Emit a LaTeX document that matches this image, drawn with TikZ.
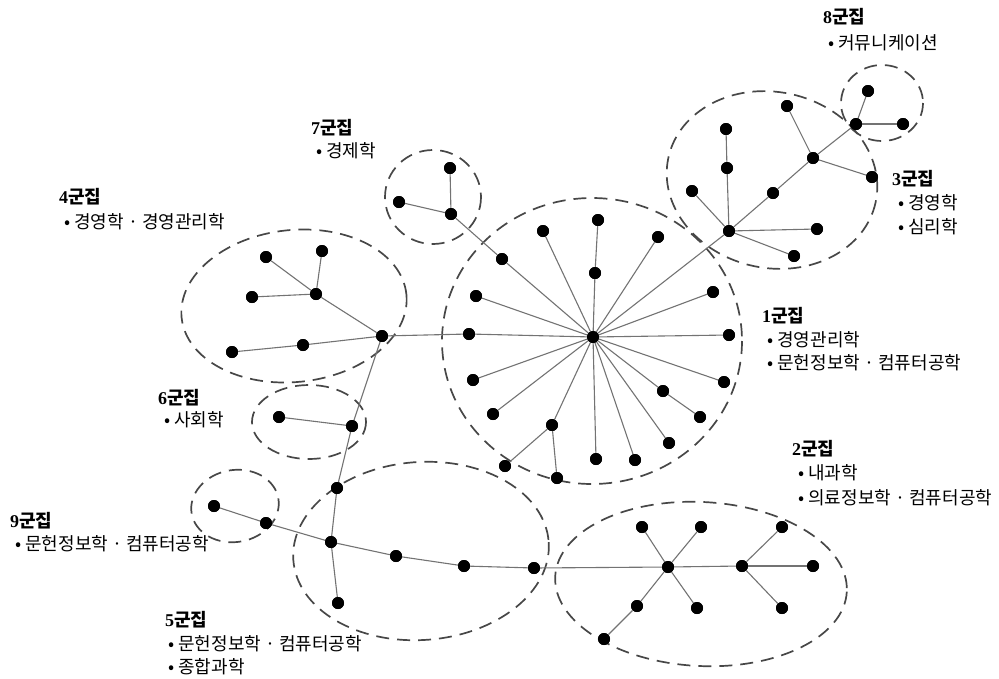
\documentclass[tikz,border=0pt]{standalone}
\usepackage{fontspec}
\setmainfont{Liberation Serif}
\newfontfamily\kr{Noto Sans CJK KR}
\tikzset{
  dot/.style={circle,fill=black,inner sep=0pt,minimum size=12pt},
  edge/.style={draw=black!55,line width=1.1pt},
  clus/.style={draw=black!72,line width=1.7pt,dash pattern=on 13pt off 8pt},
  ttl/.style={anchor=west,inner sep=0pt,font=\fontsize{18}{20}\selectfont},
  itm/.style={anchor=west,inner sep=0pt,font=\kr\fontsize{18}{20}\selectfont},
}
\newcommand{\gj}[1]{{\bfseries #1}{\kr\bfseries 군집}}
\begin{document}
\begin{tikzpicture}[x=1pt,y=-1pt]
\useasboundingbox (0,0) rectangle (999,678);
% cluster outlines
\draw[clus] (592,341) ellipse [x radius=150, y radius=143];
\draw[clus] (772,180) [rotate around={-12:(772,180)}] ellipse [x radius=106, y radius=88];
\draw[clus] (882,103) ellipse [x radius=41, y radius=38];
\draw[clus] (433,197) ellipse [x radius=48, y radius=47];
\draw[clus] (294,306) [rotate around={6:(294,306)}] ellipse [x radius=113, y radius=76];
\draw[clus] (309,422) ellipse [x radius=57, y radius=37];
\draw[clus] (421,551) [rotate around={4:(421,551)}] ellipse [x radius=128, y radius=89];
\draw[clus] (235,506) [rotate around={10:(235,506)}] ellipse [x radius=44, y radius=36];
\draw[clus] (701,584) [rotate around={-3:(701,584)}] ellipse [x radius=146, y radius=82];
% nodes: cluster 1
\node[dot] (h1) at (593,337) {};
\node[dot] (a1) at (595,273) {};
\node[dot] (a2) at (598,220) {};
\node[dot] (a3) at (543,231) {};
\node[dot] (a4) at (658,237) {};
\node[dot] (a5) at (502,259) {};
\node[dot] (a6) at (476,296) {};
\node[dot] (a7) at (469,334) {};
\node[dot] (a8) at (473,380) {};
\node[dot] (a9) at (493,414) {};
\node[dot] (a10) at (552,425) {};
\node[dot] (a11) at (505,466) {};
\node[dot] (a12) at (557,478) {};
\node[dot] (a13) at (596,459) {};
\node[dot] (a14) at (635,460) {};
\node[dot] (a15) at (669,443) {};
\node[dot] (a16) at (663,391) {};
\node[dot] (a17) at (700,417) {};
\node[dot] (a18) at (724,382) {};
\node[dot] (a19) at (729,335) {};
\node[dot] (a20) at (713,292) {};
% cluster 3
\node[dot] (h3) at (729,231) {};
\node[dot] (b1) at (727,168) {};
\node[dot] (b2) at (726,129) {};
\node[dot] (b3) at (692,191) {};
\node[dot] (b4) at (773,193) {};
\node[dot] (b5) at (813,158) {};
\node[dot] (b6) at (787,106) {};
\node[dot] (b7) at (872,177) {};
\node[dot] (b8) at (817,229) {};
\node[dot] (b9) at (794,256) {};
% cluster 8
\node[dot] (h8) at (856,124) {};
\node[dot] (c1) at (868,91) {};
\node[dot] (c2) at (903,124) {};
% cluster 7
\node[dot] (h7) at (451,214) {};
\node[dot] (d1) at (450,168) {};
\node[dot] (d2) at (399,202) {};
% cluster 4
\node[dot] (h4) at (382,336) {};
\node[dot] (e1) at (316,294) {};
\node[dot] (e2) at (266,257) {};
\node[dot] (e3) at (322,251) {};
\node[dot] (e4) at (252,297) {};
\node[dot] (e5) at (303,345) {};
\node[dot] (e6) at (232,352) {};
% cluster 6
\node[dot] (f1) at (352,426) {};
\node[dot] (f2) at (279,417) {};
% cluster 5
\node[dot] (g0) at (337,488) {};
\node[dot] (h5) at (331,542) {};
\node[dot] (g1) at (338,603) {};
\node[dot] (g2) at (396,556) {};
\node[dot] (g3) at (464,566) {};
\node[dot] (g4) at (534,568) {};
% cluster 9
\node[dot] (i1) at (266,523) {};
\node[dot] (i2) at (214,506) {};
% cluster 2
\node[dot] (h2) at (668,567) {};
\node[dot] (j1) at (642,527) {};
\node[dot] (j2) at (701,527) {};
\node[dot] (j3) at (637,606) {};
\node[dot] (j4) at (604,639) {};
\node[dot] (j5) at (697,608) {};
\node[dot] (k0) at (742,566) {};
\node[dot] (k1) at (782,527) {};
\node[dot] (k2) at (813,566) {};
\node[dot] (k3) at (782,608) {};
% edges
\foreach \n in {a1,a3,a4,a5,a6,a7,a8,a9,a10,a13,a14,a15,a16,a18,a19,a20,h3}
  \draw[edge] (h1) -- (\n);
\draw[edge] (a1) -- (a2);
\draw[edge] (a10) -- (a11);
\draw[edge] (a10) -- (a12);
\draw[edge] (a16) -- (a17);
\draw[edge] (a5) -- (h7);
\draw[edge] (h7) -- (d1);
\draw[edge] (h7) -- (d2);
\draw[edge] (a7) -- (h4);
\draw[edge] (h3) -- (b1) -- (b2);
\draw[edge] (h3) -- (b3);
\draw[edge] (h3) -- (b4) -- (b5);
\draw[edge] (b5) -- (b6);
\draw[edge] (b5) -- (b7);
\draw[edge] (b5) -- (h8);
\draw[edge] (h3) -- (b8);
\draw[edge] (h3) -- (b9);
\draw[edge] (h8) -- (c1);
\draw[edge] (h8) -- (c2);
\draw[edge] (h4) -- (e1);
\draw[edge] (e1) -- (e2);
\draw[edge] (e1) -- (e3);
\draw[edge] (e1) -- (e4);
\draw[edge] (h4) -- (e5) -- (e6);
\draw[edge] (h4) -- (f1);
\draw[edge] (f1) -- (f2);
\draw[edge] (f1) -- (g0) -- (h5);
\draw[edge] (h5) -- (g1);
\draw[edge] (h5) -- (g2) -- (g3) -- (g4) -- (h2);
\draw[edge] (h5) -- (i1) -- (i2);
\draw[edge] (h2) -- (j1);
\draw[edge] (h2) -- (j2);
\draw[edge] (h2) -- (j3) -- (j4);
\draw[edge] (h2) -- (j5);
\draw[edge] (h2) -- (k0);
\draw[edge] (k0) -- (k1);
\draw[edge] (k0) -- (k2);
\draw[edge] (k0) -- (k3);
% redraw dots on top
\foreach \n in {h1,a1,a2,a3,a4,a5,a6,a7,a8,a9,a10,a11,a12,a13,a14,a15,a16,a17,a18,a19,a20,
  h3,b1,b2,b3,b4,b5,b6,b7,b8,b9,h8,c1,c2,h7,d1,d2,h4,e1,e2,e3,e4,e5,e6,f1,f2,
  g0,h5,g1,g2,g3,g4,i1,i2,h2,j1,j2,j3,j4,j5,k0,k1,k2,k3}
  \fill (\n.center) circle (6pt);
% labels
\node[ttl] (t8) at (823,17) {\gj{8}};
\node[itm] (t8a) at (828,43) {• 커뮤니케이션};
\node[ttl] (t7) at (311,128) {\gj{7}};
\node[itm] (t7a) at (316,151) {• 경제학};
\node[ttl] (t4) at (59,197) {\gj{4}};
\node[itm] (t4a) at (64,222) {• 경영학 · 경영관리학};
\node[ttl] (t3) at (892,179) {\gj{3}};
\node[itm] (t3a) at (898,203) {• 경영학};
\node[itm] (t3b) at (898,227) {• 심리학};
\node[ttl] (t1) at (762,316) {\gj{1}};
\node[itm] (t1a) at (767,340) {• 경영관리학};
\node[itm] (t1b) at (767,363) {• 문헌정보학 · 컴퓨터공학};
\node[ttl] (t6) at (158,398) {\gj{6}};
\node[itm] (t6a) at (164,420) {• 사회학};
\node[ttl] (t2) at (792,449) {\gj{2}};
\node[itm] (t2a) at (798,473) {• 내과학};
\node[itm] (t2b) at (798,498) {• 의료정보학 · 컴퓨터공학};
\node[ttl] (t9) at (10,521) {\gj{9}};
\node[itm] (t9a) at (15,544) {• 문헌정보학 · 컴퓨터공학};
\node[ttl] (t5) at (165,620) {\gj{5}};
\node[itm] (t5a) at (168,644) {• 문헌정보학 · 컴퓨터공학};
\node[itm] (t5b) at (168,667) {• 종합과학};
\end{tikzpicture}
\end{document}
